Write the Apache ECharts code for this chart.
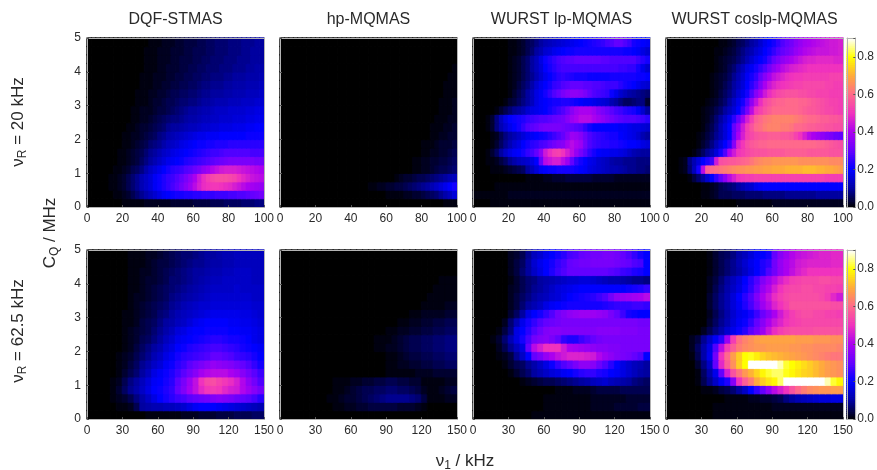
<!DOCTYPE html>
<html><head><meta charset="utf-8">
<style>html,body{margin:0;padding:0;background:#fff}#c{width:877px;height:470px;filter:blur(0.5px)}</style>
<script src="https://cdn.jsdelivr.net/npm/echarts@6/dist/echarts.min.js"></script>
</head><body><div id="c"></div>
<script>
// All values are efficiency x 100; rows run from CQ = 0-0.25 MHz upward in 0.25 MHz steps.
const titles = ['DQF-STMAS','hp-MQMAS','WURST lp-MQMAS','WURST coslp-MQMAS'];
const nu1Max = [100,150];
const nu1Step = [20,30];
const cqTicks = [0,1,2,3,4,5];
const colorStops = ['#000000','#0000a0','#0000ff','#6400ff','#aa00f0','#f032be','#ff698c','#ffaa3c','#ffff00','#ffffff'];

const dqf20 = [
[0,0,0,0,0,0,0,0,1,1,1,1,1,2,2,2,2,2,2,3,3,3,3,3,4,4,4,4,5,5,5,6,6,6,6,7,7,7,8,8],
[0,0,0,0,0,0,1,1,2,3,5,7,9,11,13,15,17,19,20,21,22,22,23,23,24,24,25,25,25,26,26,26,27,27,28,28,29,30,31,32],
[0,0,0,0,0,1,1,2,3,5,7,9,12,14,16,19,21,23,25,27,29,32,35,38,42,46,49,50,51,51,50,49,48,46,44,42,40,39,38,37],
[0,0,0,0,0,1,1,2,3,5,7,9,12,14,16,19,21,23,25,26,28,30,33,36,40,45,49,52,54,55,55,55,54,53,50,48,46,44,43,42],
[0,0,0,0,0,0,1,1,2,3,5,6,8,11,14,16,18,20,22,24,25,26,28,29,31,33,36,38,41,43,45,46,46,46,45,44,43,42,41,40],
[0,0,0,0,0,0,0,1,1,2,3,4,6,8,10,12,14,16,18,19,20,21,23,24,25,26,27,28,29,30,31,32,33,33,33,33,33,33,32,32],
[0,0,0,0,0,0,0,1,1,2,3,4,5,7,9,10,12,14,15,17,18,19,20,21,22,23,24,25,26,26,27,28,28,28,28,28,28,27,27,27],
[0,0,0,0,0,0,0,0,1,1,2,3,4,5,7,8,9,11,13,14,15,17,18,19,20,21,21,22,22,23,23,23,24,24,24,24,24,24,24,24],
[0,0,0,0,0,0,0,0,1,1,2,2,3,4,5,6,8,9,11,12,13,14,15,16,17,18,18,19,19,19,20,20,20,20,20,20,21,21,21,21],
[0,0,0,0,0,0,0,0,0,1,1,2,3,3,4,5,6,7,9,10,10,11,12,13,13,14,15,15,16,16,17,17,17,18,18,18,19,19,20,20],
[0,0,0,0,0,0,0,0,0,0,1,1,2,2,3,4,5,6,7,8,8,9,10,11,11,12,13,13,14,14,15,15,15,16,16,16,17,17,18,18],
[0,0,0,0,0,0,0,0,0,0,1,1,2,2,2,3,4,4,5,6,7,8,9,10,10,11,12,12,13,14,14,14,15,15,15,15,16,16,17,17],
[0,0,0,0,0,0,0,0,0,0,0,1,1,1,2,3,3,4,5,5,6,7,7,8,8,9,10,10,11,12,12,12,13,13,13,14,14,14,15,15],
[0,0,0,0,0,0,0,0,0,0,0,1,1,1,2,2,3,3,4,5,5,6,6,7,7,8,9,9,10,10,10,11,11,12,12,12,13,13,13,14],
[0,0,0,0,0,0,0,0,0,0,0,0,1,1,1,2,2,3,3,4,4,5,5,6,6,7,8,8,9,9,9,10,10,11,11,11,12,12,12,13],
[0,0,0,0,0,0,0,0,0,0,0,0,1,1,1,2,2,2,3,3,4,4,5,5,6,6,7,7,8,8,8,9,9,10,10,10,11,11,11,12],
[0,0,0,0,0,0,0,0,0,0,0,0,0,1,1,1,2,2,3,3,3,4,4,5,5,6,6,7,7,7,8,8,8,9,9,9,10,10,11,11],
[0,0,0,0,0,0,0,0,0,0,0,0,0,1,1,1,2,2,2,3,3,4,4,4,5,5,6,6,7,7,7,8,8,8,9,9,9,10,10,10],
[0,0,0,0,0,0,0,0,0,0,0,0,0,1,1,1,2,2,2,3,3,3,4,4,5,5,5,6,6,7,7,7,8,8,8,9,9,10,10,10],
[0,0,0,0,0,0,0,0,0,0,0,0,0,0,1,1,1,2,2,2,3,3,4,4,4,5,5,6,6,7,7,7,8,8,8,9,9,9,10,10]];

const hp20 = [
[0,0,0,0,0,0,0,0,0,0,0,0,0,0,0,0,0,0,0,0,0,0,0,0,0,0,0,0,0,0,0,0,0,0,0,0,0,1,1,1],
[0,0,0,0,0,0,0,0,0,0,0,0,0,0,0,0,0,0,0,0,0,0,0,0,1,1,1,1,2,2,3,3,4,5,6,7,9,11,13,16],
[0,0,0,0,0,0,0,0,0,0,0,0,0,0,0,0,0,0,0,0,1,1,2,2,3,3,4,4,5,6,7,8,9,10,12,14,16,18,20,22],
[0,0,0,0,0,0,0,0,0,0,0,0,0,0,0,0,0,0,0,0,0,0,0,0,0,0,1,2,3,3,4,5,5,6,7,8,9,10,12,13],
[0,0,0,0,0,0,0,0,0,0,0,0,0,0,0,0,0,0,0,0,0,0,0,0,0,0,0,0,0,0,1,1,2,2,3,4,5,5,6,7],
[0,0,0,0,0,0,0,0,0,0,0,0,0,0,0,0,0,0,0,0,0,0,0,0,0,0,0,0,0,0,1,1,2,2,3,3,4,4,5,6],
[0,0,0,0,0,0,0,0,0,0,0,0,0,0,0,0,0,0,0,0,0,0,0,0,0,0,0,0,0,0,0,0,1,1,2,2,3,3,4,5],
[0,0,0,0,0,0,0,0,0,0,0,0,0,0,0,0,0,0,0,0,0,0,0,0,0,0,0,0,0,0,0,0,1,1,1,2,3,3,3,4],
[0,0,0,0,0,0,0,0,0,0,0,0,0,0,0,0,0,0,0,0,0,0,0,0,0,0,0,0,0,0,0,0,0,0,1,1,2,2,3,3],
[0,0,0,0,0,0,0,0,0,0,0,0,0,0,0,0,0,0,0,0,0,0,0,0,0,0,0,0,0,0,0,0,0,0,1,1,1,2,2,3],
[0,0,0,0,0,0,0,0,0,0,0,0,0,0,0,0,0,0,0,0,0,0,0,0,0,0,0,0,0,0,0,0,0,0,0,1,1,1,2,2],
[0,0,0,0,0,0,0,0,0,0,0,0,0,0,0,0,0,0,0,0,0,0,0,0,0,0,0,0,0,0,0,0,0,0,0,0,1,1,1,2],
[0,0,0,0,0,0,0,0,0,0,0,0,0,0,0,0,0,0,0,0,0,0,0,0,0,0,0,0,0,0,0,0,0,0,0,0,1,1,1,2],
[0,0,0,0,0,0,0,0,0,0,0,0,0,0,0,0,0,0,0,0,0,0,0,0,0,0,0,0,0,0,0,0,0,0,0,0,0,1,1,1],
[0,0,0,0,0,0,0,0,0,0,0,0,0,0,0,0,0,0,0,0,0,0,0,0,0,0,0,0,0,0,0,0,0,0,0,0,0,1,1,1],
[0,0,0,0,0,0,0,0,0,0,0,0,0,0,0,0,0,0,0,0,0,0,0,0,0,0,0,0,0,0,0,0,0,0,0,0,0,0,1,1],
[0,0,0,0,0,0,0,0,0,0,0,0,0,0,0,0,0,0,0,0,0,0,0,0,0,0,0,0,0,0,0,0,0,0,0,0,0,0,0,1],
[0,0,0,0,0,0,0,0,0,0,0,0,0,0,0,0,0,0,0,0,0,0,0,0,0,0,0,0,0,0,0,0,0,0,0,0,0,0,0,0],
[0,0,0,0,0,0,0,0,0,0,0,0,0,0,0,0,0,0,0,0,0,0,0,0,0,0,0,0,0,0,0,0,0,0,0,0,0,0,0,0],
[0,0,0,0,0,0,0,0,0,0,0,0,0,0,0,0,0,0,0,0,0,0,0,0,0,0,0,0,0,0,0,0,0,0,0,0,0,0,0,0]];

const lp20 = [
[0,0,0,0,1,1,1,1,1,1,1,1,1,1,1,1,1,1,1,1,1,1,1,1,1,1,1,1,1,1,1,1,1,1,1,1,1,1,1,1],
[1,1,1,1,1,1,1,1,2,2,2,2,2,2,2,2,2,2,2,2,2,2,2,2,2,2,2,2,2,2,2,2,2,2,2,2,2,2,2,2],
[0,0,0,0,0,1,1,1,1,1,1,1,1,1,1,1,1,1,1,1,1,1,1,1,1,1,1,1,1,1,1,1,1,1,1,1,1,1,1,1],
[0,0,0,0,0,0,0,0,0,0,0,0,1,1,1,1,2,2,3,3,3,4,4,4,4,4,4,3,3,3,3,3,2,2,2,2,2,2,2,2],
[0,0,0,0,1,1,1,2,3,4,5,6,10,13,16,19,20,21,21,22,22,22,22,21,20,19,17,16,15,14,13,12,12,11,10,9,9,8,8,7],
[0,0,0,1,1,2,4,6,9,11,13,14,15,17,20,30,42,44,46,46,42,38,30,25,22,20,18,17,15,14,13,11,10,10,9,9,9,8,8,8],
[0,0,0,1,3,6,10,14,17,19,20,22,25,27,30,36,45,49,52,53,50,46,42,37,33,29,25,22,20,19,19,18,18,17,16,14,12,11,10,10],
[0,0,0,0,1,3,6,9,12,15,17,20,22,24,25,27,28,30,32,34,35,39,42,40,38,32,28,26,25,24,24,23,23,22,21,20,20,19,17,16],
[0,0,0,0,1,2,5,8,10,12,14,16,18,19,20,21,22,24,26,28,30,34,38,37,35,31,28,26,25,24,23,22,22,20,19,18,17,15,12,10],
[0,0,0,1,3,8,12,15,18,20,22,25,28,29,30,32,33,33,33,33,32,31,30,29,28,25,22,20,20,20,20,20,20,19,19,18,17,17,16,15],
[0,0,0,1,3,8,13,17,20,21,22,23,25,26,27,28,28,29,30,31,32,35,38,40,42,42,42,40,38,36,34,32,30,29,28,28,28,27,26,24],
[0,0,0,0,0,1,3,5,7,9,10,12,15,17,18,19,20,22,24,26,28,31,35,38,40,40,40,38,35,33,31,29,27,26,24,23,22,19,15,10],
[0,0,0,0,0,0,0,1,3,4,6,8,10,13,17,19,20,21,22,22,23,23,22,21,20,19,19,18,17,16,15,12,10,8,6,6,7,8,8,3],
[0,0,0,0,0,0,0,0,1,3,5,7,10,13,17,19,22,25,28,30,33,35,36,36,35,33,30,28,27,26,25,21,18,15,13,11,10,9,8,7],
[0,0,0,0,0,0,0,0,1,2,4,6,8,11,15,18,20,22,25,26,28,29,30,30,30,29,29,28,28,27,26,26,26,24,22,21,20,18,16,15],
[0,0,0,0,0,0,0,0,1,2,3,5,7,9,12,15,18,20,22,24,25,24,23,22,22,22,21,21,21,21,21,22,22,22,22,22,22,21,21,20],
[0,0,0,0,0,0,0,0,1,2,3,5,7,10,13,16,20,22,24,26,27,27,27,27,27,27,27,27,27,27,27,27,27,26,26,25,25,22,18,15],
[0,0,0,0,0,0,0,0,1,2,3,5,7,10,13,17,21,23,25,27,28,29,29,30,30,30,30,30,30,29,29,28,28,28,28,28,28,26,24,22],
[0,0,0,0,0,0,0,0,1,1,2,3,5,7,10,12,15,16,18,19,20,21,21,22,22,22,22,22,22,22,22,22,22,22,21,21,20,19,17,15],
[0,0,0,0,0,0,0,0,1,1,2,3,5,6,8,10,12,13,14,15,16,17,18,19,20,21,22,23,24,25,27,28,30,30,28,26,22,21,20,19]];

const coslp20 = [
[0,0,0,0,0,0,0,0,0,0,0,0,0,0,0,0,1,1,1,1,1,1,1,1,2,2,2,2,2,2,2,2,2,2,2,2,2,2,2,2],
[0,0,0,0,0,0,0,0,1,1,2,3,5,5,5,6,6,6,7,7,7,7,8,8,8,8,8,9,9,9,9,9,9,9,10,10,10,10,10,10],
[0,0,0,0,0,0,0,0,1,1,2,3,5,6,7,8,10,12,14,15,18,19,20,20,20,20,20,20,20,20,20,20,20,20,20,20,20,20,20,20],
[0,0,0,0,0,1,4,7,10,15,20,25,30,36,42,46,50,51,52,52,53,53,53,53,53,53,53,53,53,53,53,53,53,53,53,53,52,52,52,52],
[0,0,0,1,2,7,13,22,42,58,60,61,62,63,64,65,66,66,67,67,68,68,69,69,70,70,70,71,71,71,71,72,72,72,71,71,70,70,69,68],
[0,0,0,1,2,8,12,16,20,23,26,45,55,56,57,57,58,59,60,62,64,65,66,66,67,67,67,67,67,67,66,66,66,66,66,66,66,65,65,65],
[0,0,0,0,0,0,1,3,6,9,12,16,22,28,40,45,50,52,54,55,56,56,56,57,57,57,57,58,58,58,58,58,57,57,57,57,57,56,56,56],
[0,0,0,0,0,0,0,1,3,5,8,12,16,20,24,35,47,51,55,57,58,59,59,60,60,60,60,60,60,60,60,60,60,60,59,59,58,57,56,55],
[0,0,0,0,0,0,0,1,2,4,6,9,12,16,20,30,40,46,52,54,56,57,57,58,58,58,57,57,56,53,50,46,42,40,38,36,34,33,31,30],
[0,0,0,0,0,0,0,0,1,3,5,8,12,16,20,30,37,45,52,56,60,61,63,64,64,64,63,63,62,60,60,59,58,58,57,57,56,56,55,55],
[0,0,0,0,0,0,0,0,1,2,4,7,10,14,18,24,30,38,46,52,58,60,62,63,64,64,64,64,64,63,62,61,60,60,59,58,58,57,57,56],
[0,0,0,0,0,0,0,0,1,2,3,5,7,10,13,16,20,26,33,42,50,53,56,58,60,60,60,60,60,60,59,58,57,57,56,55,54,54,53,52],
[0,0,0,0,0,0,0,0,0,1,2,3,5,7,10,14,18,22,28,36,43,49,54,56,58,59,59,60,60,60,59,59,58,57,56,55,54,53,53,52],
[0,0,0,0,0,0,0,0,0,0,1,2,4,6,8,11,15,18,22,28,35,40,45,49,52,54,55,56,56,56,55,55,54,54,53,53,53,52,52,52],
[0,0,0,0,0,0,0,0,0,0,1,2,3,5,7,10,13,16,20,24,28,34,40,44,47,49,50,51,52,53,53,54,54,54,54,54,53,53,52,52],
[0,0,0,0,0,0,0,0,0,0,1,2,3,4,6,9,12,15,19,22,25,30,35,39,43,45,47,49,50,51,51,52,52,52,52,52,52,53,53,53],
[0,0,0,0,0,0,0,0,0,0,0,1,2,3,5,7,10,13,17,19,22,25,28,32,36,39,42,44,46,47,48,49,50,50,50,50,50,50,50,50],
[0,0,0,0,0,0,0,0,0,0,0,1,2,3,4,5,7,9,12,15,18,20,22,26,30,33,36,38,40,42,44,46,47,47,48,48,48,48,47,47],
[0,0,0,0,0,0,0,0,0,0,0,1,1,2,3,4,6,8,10,12,15,17,20,22,25,28,30,32,34,37,39,41,42,43,44,44,44,45,45,46],
[0,0,0,0,0,0,0,0,0,0,0,0,1,1,2,3,5,6,8,10,12,15,18,20,22,25,28,30,32,35,37,39,40,41,42,43,44,45,45,46]];

const dqf62 = [
[0,0,0,0,0,0,0,0,0,0,1,1,1,1,1,1,2,2,2,3,3,3,4,4,4,5,5,5,6,6],
[0,0,0,0,0,1,1,2,5,10,11,12,12,13,13,14,15,17,19,20,20,20,19,18,17,16,15,14,13,12],
[0,0,0,0,1,2,3,5,8,11,14,17,20,22,24,26,27,29,30,31,32,34,35,34,33,31,30,29,27,24],
[0,0,0,0,1,3,6,9,11,14,17,20,21,23,25,30,34,39,43,48,51,52,51,48,46,45,41,38,35,32],
[0,0,0,0,1,2,5,8,10,13,16,19,20,22,24,29,33,38,43,50,54,55,53,51,49,46,41,36,32,28],
[0,0,0,0,0,1,3,5,7,10,13,17,19,21,23,26,29,32,35,39,41,42,42,42,40,38,35,32,29,26],
[0,0,0,0,0,1,2,4,6,9,11,14,16,19,21,24,26,29,31,33,35,37,36,35,34,32,30,28,25,22],
[0,0,0,0,0,1,2,3,5,7,9,12,14,17,19,22,24,25,26,27,28,30,30,29,28,26,25,24,22,20],
[0,0,0,0,0,0,1,2,4,6,8,10,12,15,17,20,21,23,24,25,26,27,27,26,25,24,22,21,20,19],
[0,0,0,0,0,0,1,2,3,5,6,8,10,13,15,18,19,20,21,22,23,24,24,23,22,22,21,20,18,17],
[0,0,0,0,0,0,1,2,3,4,5,7,9,11,13,16,17,19,20,20,21,21,21,21,20,20,19,19,18,17],
[0,0,0,0,0,0,1,1,2,4,5,6,8,10,11,13,14,16,18,19,20,20,20,20,19,19,18,18,17,16],
[0,0,0,0,0,0,1,1,2,3,4,5,7,8,10,12,13,14,15,16,17,18,18,18,18,18,17,17,16,15],
[0,0,0,0,0,0,0,1,2,3,4,5,6,7,9,10,12,13,14,15,15,16,16,16,16,16,16,16,15,15],
[0,0,0,0,0,0,0,1,2,2,3,4,5,6,8,9,10,11,12,13,14,15,15,15,15,15,15,15,14,14],
[0,0,0,0,0,0,0,1,1,2,3,4,5,6,7,8,9,10,11,12,13,14,14,14,14,15,14,14,14,14],
[0,0,0,0,0,0,0,1,1,2,3,3,4,5,7,7,8,9,10,11,12,13,13,14,14,14,14,14,13,13],
[0,0,0,0,0,0,0,1,1,2,2,3,4,5,6,7,8,9,10,10,11,12,12,13,13,14,14,14,13,13],
[0,0,0,0,0,0,0,1,1,1,2,3,4,4,5,6,7,8,9,9,10,11,11,12,12,13,13,13,13,13],
[0,0,0,0,0,0,0,1,1,1,2,2,3,4,5,6,7,7,8,9,10,10,11,12,12,13,13,13,13,13]];

const hp62 = [
[0,0,0,0,0,0,0,0,0,0,0,0,0,0,0,0,0,0,0,0,0,0,0,0,0,0,0,0,0,0],
[0,0,0,0,0,0,0,0,0,1,1,2,2,3,3,4,4,4,4,4,3,3,3,2,1,0,0,0,0,0],
[0,0,0,0,0,0,0,0,1,1,2,3,3,4,5,6,7,8,9,9,9,9,8,7,4,1,1,1,2,2],
[0,0,0,0,0,0,0,0,0,1,1,2,3,4,5,5,6,6,7,7,6,6,5,4,2,1,1,2,3,4],
[0,0,0,0,0,0,0,0,0,1,1,1,2,2,3,3,4,4,5,5,4,4,3,3,1,1,1,1,2,2],
[0,0,0,0,0,0,0,0,0,0,0,0,0,0,0,0,0,0,1,1,1,1,1,2,2,2,3,3,3,3],
[0,0,0,0,0,0,0,0,0,0,0,0,0,0,0,0,0,0,1,1,2,2,3,3,4,4,5,5,6,6],
[0,0,0,0,0,0,0,0,0,0,0,0,0,0,0,0,0,0,1,1,2,3,4,4,5,5,6,6,7,7],
[0,0,0,0,0,0,0,0,0,0,0,0,0,0,0,0,1,1,2,2,3,4,5,5,6,6,7,7,8,8],
[0,0,0,0,0,0,0,0,0,0,0,0,0,0,0,0,1,1,1,2,3,4,5,5,6,6,7,7,8,8],
[0,0,0,0,0,0,0,0,0,0,0,0,0,0,0,0,0,0,1,1,2,2,3,3,4,4,5,5,6,6],
[0,0,0,0,0,0,0,0,0,0,0,0,0,0,0,0,0,0,0,0,1,1,2,2,3,3,4,4,5,5],
[0,0,0,0,0,0,0,0,0,0,0,0,0,0,0,0,0,0,0,0,0,0,1,1,2,2,2,2,3,3],
[0,0,0,0,0,0,0,0,0,0,0,0,0,0,0,0,0,0,0,0,0,0,0,0,1,1,1,1,2,2],
[0,0,0,0,0,0,0,0,0,0,0,0,0,0,0,0,0,0,0,0,0,0,0,0,0,1,1,1,1,1],
[0,0,0,0,0,0,0,0,0,0,0,0,0,0,0,0,0,0,0,0,0,0,0,0,0,0,1,1,1,1],
[0,0,0,0,0,0,0,0,0,0,0,0,0,0,0,0,0,0,0,0,0,0,0,0,0,0,0,1,1,1],
[0,0,0,0,0,0,0,0,0,0,0,0,0,0,0,0,0,0,0,0,0,0,0,0,0,0,0,0,0,0],
[0,0,0,0,0,0,0,0,0,0,0,0,0,0,0,0,0,0,0,0,0,0,0,0,0,0,0,0,0,0],
[0,0,0,0,0,0,0,0,0,0,0,0,0,0,0,0,0,0,0,0,0,0,0,0,0,0,0,0,0,0]];

const lp62 = [
[0,0,0,0,0,0,0,0,0,0,1,1,1,1,1,1,1,1,1,1,1,1,1,1,1,1,1,1,1,1],
[0,0,0,0,0,0,0,0,0,0,0,0,1,1,1,1,1,1,1,1,2,2,2,2,3,3,3,3,4,4],
[0,0,0,0,0,0,0,0,0,0,0,0,1,1,1,1,1,1,1,1,2,2,2,2,2,2,3,3,3,3],
[0,0,0,0,0,0,0,0,0,0,0,0,0,0,1,1,1,2,2,2,3,4,4,4,4,5,5,5,5,5],
[0,0,0,0,0,0,0,0,1,2,3,4,5,5,6,7,8,9,10,11,13,14,15,13,12,11,10,8,7,6],
[0,0,0,0,0,0,1,3,5,7,10,12,14,16,17,19,20,22,24,25,25,23,22,20,19,17,15,13,11,10],
[0,0,0,0,0,1,3,5,6,9,11,14,17,21,25,28,30,33,36,36,35,31,28,24,20,17,15,13,12,10],
[0,0,0,0,1,2,4,9,14,20,30,33,37,40,43,45,47,47,47,46,45,41,38,36,34,33,32,30,28,20],
[0,0,0,0,2,5,9,13,17,30,42,46,50,50,50,45,40,39,38,37,36,35,35,34,34,33,33,33,33,33],
[0,0,0,1,3,7,12,17,22,27,32,34,35,33,30,25,23,23,26,28,30,32,33,33,33,33,33,33,33,33],
[0,0,0,0,1,4,8,17,20,24,28,31,34,35,35,34,34,34,34,34,34,35,35,35,35,34,34,34,33,33],
[0,0,0,0,0,2,7,12,18,22,25,28,30,31,32,33,33,33,33,33,33,33,33,33,33,33,33,33,32,32],
[0,0,0,0,0,0,3,6,10,17,20,22,25,28,32,34,36,37,38,38,38,37,36,33,30,26,22,21,20,20],
[0,0,0,0,0,0,2,4,7,10,12,14,17,19,20,21,22,22,22,22,22,22,23,24,25,25,25,26,26,25],
[0,0,0,0,0,0,2,4,6,8,10,12,13,15,16,18,20,21,22,23,24,26,28,32,36,37,38,39,40,42],
[0,0,0,0,0,0,2,3,5,7,9,10,12,14,16,17,18,19,20,20,20,20,20,20,20,20,21,22,23,25],
[0,0,0,0,0,0,1,3,5,7,8,10,11,12,13,14,15,15,16,16,15,14,13,12,12,11,10,9,9,8],
[0,0,0,0,0,0,2,4,7,10,14,17,20,23,26,28,30,30,30,30,30,30,30,29,28,26,25,23,22,20],
[0,0,0,0,0,0,2,4,6,10,15,18,20,22,25,27,30,31,32,32,33,33,33,33,32,31,30,28,27,20],
[0,0,0,0,0,0,2,3,5,9,13,15,18,20,22,24,27,28,30,31,32,32,33,33,32,30,28,25,22,20]];

const coslp62 = [
[0,0,0,0,0,0,0,0,1,1,1,1,1,1,1,1,1,1,1,1,1,1,1,1,1,1,1,1,1,1],
[0,0,0,0,0,0,0,0,1,1,1,1,1,1,1,1,1,1,2,2,2,2,2,2,2,2,2,2,2,2],
[0,0,0,0,0,0,0,0,0,0,1,1,1,1,2,2,3,3,4,5,8,10,12,13,14,15,16,16,17,17],
[0,0,0,0,0,0,1,1,2,4,5,7,10,14,20,25,30,36,42,46,50,56,60,63,65,66,67,67,68,68],
[0,0,0,0,0,1,5,9,14,19,23,35,50,58,63,70,74,77,79,84,90,90,90,90,90,90,90,87,82,79],
[0,0,0,0,0,1,6,11,18,30,46,56,62,67,71,75,79,82,84,84,81,79,77,75,74,72,70,68,67,66],
[0,0,0,0,0,3,8,14,30,48,58,66,74,80,90,90,90,90,90,87,82,80,78,76,74,72,70,68,67,66],
[0,0,0,0,1,5,11,18,32,50,60,68,74,80,81,78,75,73,72,71,70,69,68,67,66,65,64,63,62,62],
[0,0,0,0,2,6,11,17,28,42,52,58,63,65,66,67,67,68,68,68,68,67,67,66,66,65,65,65,65,64],
[0,0,0,0,2,4,9,14,19,24,38,52,61,64,66,68,69,69,69,69,69,69,68,68,68,67,67,67,66,66],
[0,0,0,0,0,0,2,5,8,11,15,18,21,24,29,33,38,44,49,52,54,55,55,55,55,56,56,56,56,56],
[0,0,0,0,0,0,0,3,6,9,12,16,19,21,25,30,35,40,44,47,50,52,53,54,54,54,54,54,54,54],
[0,0,0,0,0,0,0,2,5,8,11,15,18,19,22,26,31,35,40,45,49,52,54,55,55,54,54,53,53,52],
[0,0,0,0,0,0,0,3,6,9,12,16,19,23,27,32,38,42,47,50,53,56,56,56,56,56,56,56,55,55],
[0,0,0,0,0,0,0,3,6,9,12,16,20,24,28,34,40,44,49,52,54,55,55,55,55,55,54,52,48,45],
[0,0,0,0,0,0,0,2,5,8,11,14,17,21,25,30,37,41,46,50,53,54,54,55,55,54,54,53,53,52],
[0,0,0,0,0,0,0,2,4,7,10,13,16,20,24,28,34,38,42,46,49,52,53,54,54,54,55,55,54,54],
[0,0,0,0,0,0,0,1,3,5,7,9,11,14,17,20,23,28,32,37,40,43,46,48,50,50,50,50,50,50],
[0,0,0,0,0,0,0,1,3,5,7,9,12,15,18,20,23,25,32,37,40,42,45,46,47,47,47,47,48,48],
[0,0,0,0,0,0,0,1,3,5,6,8,11,13,16,19,20,22,30,35,38,41,43,44,45,46,47,47,48,48]];

const panels = [[dqf20,hp20,lp20,coslp20],[dqf62,hp62,lp62,coslp62]];

const panelLeft = [87,280,473,666];
const rowTop = [38,250];
const W = 177, H = 169;
const barLeft = 847, barW = 10;
const gray = '#b4b4b4', ink = '#2a2a2a';
const FONT = '"Liberation Sans", Arial, sans-serif';
const labelFont = 12;

const grids = [], xAxes = [], yAxes = [], series = [];
const cell = (i, j, v) => {
  const c = echarts.color.lerp(Math.min(v/0.9, 1), colorStops);
  return {value:[i, j, v], itemStyle:{borderColor:c, borderWidth:0.8}};
};

function addGrid(left, top, width, height){
  grids.push({left, top, width, height, show:false, containLabel:false});
  return grids.length - 1;
}
const hiddenCat = (gi, data, pos) => ({
  type:'category', gridIndex:gi, data, position:pos, boundaryGap:true, z:5,
  axisLine:{show:true, onZero:false, lineStyle:{color:gray, width:1}},
  axisTick:{show:false}, axisLabel:{show:false}, splitLine:{show:false}
});
const valAxis = (gi, pos, min, max, interval, showLabel, extra) => Object.assign({
  type:'value', gridIndex:gi, position:pos, min, max, interval, z:6, scale:false,
  axisLine:{show:true, onZero:false, lineStyle:{color:gray, width:1}},
  axisTick:{show:true, inside:true, length:2, lineStyle:{color:'#555', width:1}},
  axisLabel:{show:showLabel, fontFamily:FONT, fontSize:labelFont, color:ink, margin:6, showMinLabel:true, showMaxLabel:true, hideOverlap:false},
  splitLine:{show:false}
}, extra || {});

function addPanel(r, c){
  const rows = panels[r][c];
  const gi = addGrid(panelLeft[c], rowTop[r], W, H);
  const xc = rows[0].map((_, i) => i), yc = rows.map((_, j) => j);
  const ax = xAxes.length, ay = yAxes.length;
  xAxes.push(hiddenCat(gi, xc, 'top'));
  yAxes.push(hiddenCat(gi, yc, 'right'));
  xAxes.push(valAxis(gi, 'bottom', 0, nu1Max[r], nu1Step[r], true));
  yAxes.push(valAxis(gi, 'left', cqTicks[0], cqTicks[cqTicks.length-1], 1, c === 0, {}));
  const data = [];
  rows.forEach((row, j) => row.forEach((v, i) => data.push(cell(i, j, v/100))));
  series.push({type:'heatmap', xAxisIndex:ax, yAxisIndex:ay, data, progressive:0, silent:true});
}
[0,1].forEach(r => [0,1,2,3].forEach(c => addPanel(r,c)));

const barLevels = [];
for (let k = 0; k < 90; k++) barLevels.push(k);
[0,1].forEach(r => {
  const gi = addGrid(barLeft, rowTop[r], barW, H);
  const ax = xAxes.length, ay = yAxes.length;
  xAxes.push({type:'category', gridIndex:gi, data:['v'], position:'top', z:5,
    axisLine:{show:true, onZero:false, lineStyle:{color:gray}}, axisTick:{show:false}, axisLabel:{show:false}});
  yAxes.push({type:'category', gridIndex:gi, data:barLevels, position:'left', z:5,
    axisLine:{show:true, onZero:false, lineStyle:{color:gray}}, axisTick:{show:false}, axisLabel:{show:false}});
  xAxes.push({type:'value', gridIndex:gi, position:'bottom', min:0, max:1, show:true, z:5,
    axisLine:{show:true, onZero:false, lineStyle:{color:gray}}, axisTick:{show:false}, axisLabel:{show:false}, splitLine:{show:false}});
  yAxes.push(valAxis(gi, 'right', 0, 0.9, 0.2, true, {
    axisLabel:{show:true, fontFamily:FONT, fontSize:labelFont, color:ink, margin:2,
      formatter:v => v > 0.85 ? '' : v.toFixed(1)},
    axisTick:{show:true, inside:true, length:2, lineStyle:{color:'#555'}}
  }));
  series.push({type:'heatmap', xAxisIndex:ax, yAxisIndex:ay, silent:true, progressive:0,
    data:barLevels.map(k => cell(0, k, (k+0.5)/100))});
});

const titleOpts = titles.map((t, c) => ({
  text:t, left:panelLeft[c]+W/2, top:12, textAlign:'center', padding:0,
  textStyle:{fontFamily:FONT, fontSize:16, fontWeight:'normal', color:ink}
}));

const rich = {
  a:{fontFamily:FONT, fontSize:17, color:ink},
  s:{fontFamily:FONT, fontSize:12, color:ink, verticalAlign:'bottom', padding:[9,0,0,0]}
};
const sideText = (text, x, y, rot) => ({
  type:'text', x, y, rotation:rot, silent:true,
  style:{text, rich, align:'center', verticalAlign:'middle', fill:ink}
});

const chart = echarts.init(document.getElementById('c'), null, {renderer:'canvas'});
chart.setOption({
  animation:false, backgroundColor:'#fff',
  title:titleOpts, grid:grids, xAxis:xAxes, yAxis:yAxes,
  visualMap:{show:false, type:'continuous', min:0, max:0.9, calculable:false,
    seriesIndex:series.map((_, i) => i), inRange:{color:colorStops}},
  series,
  graphic:[
    sideText('{a|ν}{s|R}{a| = 20 kHz}', 18, 122, Math.PI/2),
    sideText('{a|ν}{s|R}{a| = 62.5 kHz}', 18, 331, Math.PI/2),
    sideText('{a|C}{s|Q}{a| / MHz}', 50, 233, Math.PI/2),
    sideText('{a|ν}{s|1}{a| / kHz}', 465, 461, 0)
  ]
});
</script></body></html>
